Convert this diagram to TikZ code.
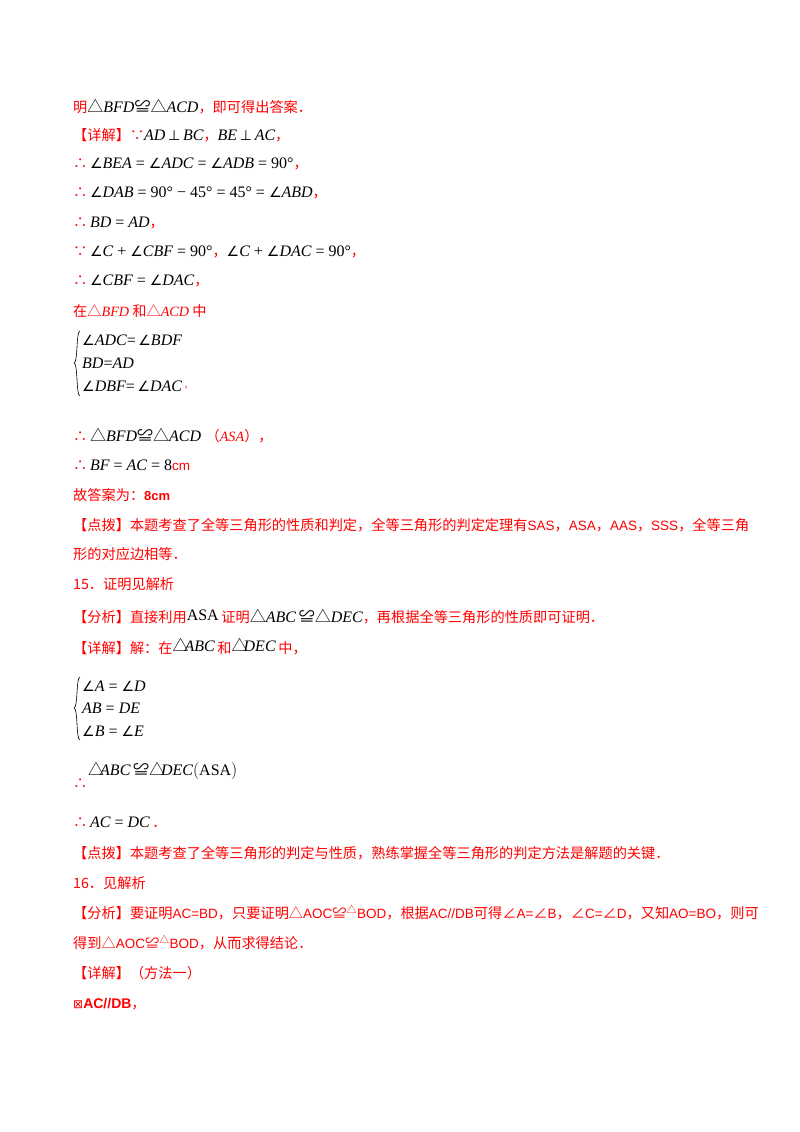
\documentclass[tikz,border=0pt]{standalone}
\usepackage{fontspec}
\setmainfont{Liberation Serif}
\newfontfamily\cjk{Noto Sans CJK SC}
\newfontfamily\symf{DejaVu Sans}
\newfontfamily\sansf{Liberation Sans}
\definecolor{rd}{HTML}{FF0000}
\newcommand\Rr[1]{{\color{rd}\cjk\fontsize{14.2}{17}\selectfont #1}}
\newcommand\Sa[1]{{\sansf\fontsize{13.5}{16}\selectfont #1}}
\newcommand\Ang{{\symf\fontsize{14}{16}\selectfont ∠}}
\newcommand\Tri{{\cjk △}}
\newcommand\Cong{{\cjk ≌}}
\newcommand\Perp{{\symf\fontsize{14}{16}\selectfont ⊥}}
\newcommand\I[1]{{\rmfamily\itshape #1}}
\begin{document}
\begin{tikzpicture}[x=1pt,y=-1pt,
  ln/.style={anchor=west,inner sep=0pt,font=\fontsize{16}{19}\selectfont}]
\useasboundingbox (0,0) rectangle (800,1132);
\fill[white] (0,0) rectangle (800,1132);
\node[ln] (l1) at (73,107) {\Rr{明}\Tri\I{BFD}\Cong\Tri\I{ACD}\Rr{，即可得出答案．}};
\node[ln] (l2) at (73,135) {\Rr{【详解】∵}\I{AD}\,\Perp\,\I{BC}\Rr{，}\I{BE}\,\Perp\,\I{AC}\Rr{，}};
\node[ln] (l3) at (73,164) {\Rr{∴}\,\Ang\I{BEA} = \Ang\I{ADC} = \Ang\I{ADB} = 90°\Rr{，}};
\node[ln] (l4) at (73,193) {\Rr{∴}\,\Ang\I{DAB} = 90° − 45° = 45° = \Ang\I{ABD}\Rr{，}};
\node[ln] (l5) at (73,223) {\Rr{∴}\,\I{BD} = \I{AD}\Rr{，}};
\node[ln] (l6) at (73,252) {\Rr{∵}\,\Ang\I{C} + \Ang\I{CBF} = 90°\Rr{，}\Ang\I{C} + \Ang\I{DAC} = 90°\Rr{，}};
\node[ln] (l7) at (73,281) {\Rr{∴}\,\Ang\I{CBF} = \Ang\I{DAC}\Rr{，}};
\node[ln] (l8) at (73,311) {\Rr{在△\I{BFD} 和△\I{ACD} 中}};
\node[ln] (s1) at (82,340) {\Ang\I{ADC}=\,\Ang\I{BDF}};
\node[ln] (s2) at (82,363) {\I{BD}=\I{AD}};
\node[ln] (s3) at (82,386) {\Ang\I{DBF}=\,\Ang\I{DAC}\,\raisebox{4pt}{\Rr{\fontsize{9}{9}\selectfont ,}}};
\draw[line width=0.6pt] (80,331) .. controls (76,331) and (78,363) .. (74,363) .. controls (78,363) and (76,396) .. (80,396);
\node[ln] (l9) at (73,436) {\Rr{∴}\,\Tri\I{BFD}\Cong\Tri\I{ACD}\;\Rr{（\I{ASA}），}};
\node[ln] (l10) at (73,465) {\Rr{∴}\,\I{BF} = \I{AC} = 8{\color{rd}\Sa{cm}}};
\node[ln] (l11) at (73,495) {\Rr{故答案为：}{\color{rd}\sansf\bfseries\fontsize{13}{16}\selectfont 8cm}};
\node[ln] (l12) at (73,525) {\Rr{【点拨】本题考查了全等三角形的性质和判定，全等三角形的判定定理有\Sa{SAS}，\Sa{ASA}，\Sa{AAS}，\Sa{SSS}，全等三角}};
\node[ln] (l13) at (73,554) {\Rr{形的对应边相等．}};
\node[ln] (l14) at (73,584) {\Rr{15．证明见解析}};
\node[ln] (l15) at (73,617) {\Rr{【分析】直接利用}\raisebox{2pt}{ASA}\,\Rr{证明}\Tri\I{ABC}\,\Cong\Tri\I{DEC}\Rr{，再根据全等三角形的性质即可证明．}};
\node[ln] (l16) at (73,647) {\Rr{【详解】解：在}\raisebox{2pt}{\Tri\kern-4pt\I{ABC}}\,\Rr{和}\raisebox{2pt}{\Tri\kern-4pt\I{DEC}}\,\Rr{中，}};
\node[ln] (t1) at (82,686) {\Ang\I{A} = \Ang\I{D}};
\node[ln] (t2) at (82,708) {\I{AB} = \I{DE}};
\node[ln] (t3) at (82,731) {\Ang\I{B} = \Ang\I{E}};
\draw[line width=0.6pt] (80,677) .. controls (76,677) and (78,708) .. (74,708) .. controls (78,708) and (76,740) .. (80,740);
\node[ln] (l17a) at (73,784) {\Rr{∴}};
\node[ln] (l17) at (88,771) {\Tri\kern-4pt\I{ABC}\,\Cong\Tri\kern-4pt\I{DEC}$\bigl($ASA$\bigr)$};
\node[ln] (l18) at (73,822) {\Rr{∴}\,\I{AC} = \I{DC}\,\Rr{．}};
\node[ln] (l19) at (73,853) {\Rr{【点拨】本题考查了全等三角形的判定与性质，熟练掌握全等三角形的判定方法是解题的关键．}};
\node[ln] (l20) at (73,883) {\Rr{16．见解析}};
\node[ln] (l21) at (73,913) {\Rr{【分析】要证明\Sa{AC=BD}，只要证明△\Sa{AOC}≌\textsuperscript{△}\Sa{BOD}，根据\Sa{AC//DB}可得∠\Sa{A=}∠\Sa{B}，∠\Sa{C=}∠\Sa{D}，又知\Sa{AO=BO}，则可}};
\node[ln] (l22) at (73,943) {\Rr{得到△\Sa{AOC}≌\textsuperscript{△}\Sa{BOD}，从而求得结论．}};
\node[ln] (l23) at (73,973) {\Rr{【详解】（方法一）}};
\node[ln] (l24) at (73,1004) {\Rr{{\symf\fontsize{12}{12}\selectfont ⊠}{\sansf\bfseries\fontsize{14}{16}\selectfont AC//DB}，}};
\end{tikzpicture}
\end{document}
